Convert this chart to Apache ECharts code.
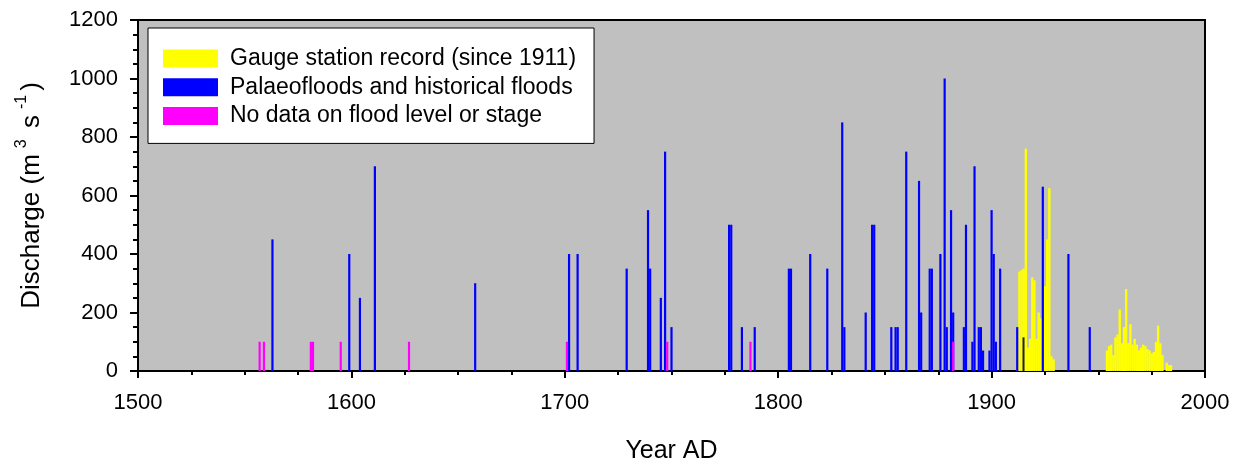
<!DOCTYPE html>
<html>
<head>
<meta charset="utf-8">
<script src="https://cdn.jsdelivr.net/npm/echarts@6/dist/echarts.min.js"></script>
<style>
  html, body { margin: 0; padding: 0; background: #ffffff; }
  #chart { width: 1238px; height: 464px; }
</style>
</head>
<body>
<div id="chart"></div>
<script>
// ---- Data ----
const gaugeYears = [1912,1913,1914,1915,1916,1917,1918,1919,1920,1921,1922,1923,1924,1925,1926,1927,1928,1929,
  1954,1955,1956,1957,1958,1959,1960,1961,1962,1963,1964,1965,1966,1967,1968,1969,1970,1971,1972,1973,1974,1975,1976,1977,1978,1979,1980,1982,1983,1984];
const gaugeValues = [70,340,345,350,760,80,110,320,310,110,200,180,100,290,450,625,50,40,
  70,85,90,55,115,125,210,95,150,280,95,160,90,110,90,70,80,90,85,75,70,60,65,100,155,95,55,28,20,20];

const floodYears = [1563,1599,1604,1611,1658,1702,1706,1729,1739,1740,1745,1747,1750,1777,1778,1783,1789,
  1805,1806,1815,1823,1830,1831,1841,1844,1845,1853,1855,1856,1860,1866,1867,1871,1872,1876,1878,1879,
  1881,1882,1887,1888,1891,1892,1894,1895,1896,1899,1900,1901,1902,1904,1912,1924,1936,1946];
const floodValues = [450,400,250,700,300,400,400,350,550,350,250,750,150,500,500,150,150,
  350,350,400,350,850,150,200,500,500,150,150,150,750,650,200,350,350,400,1000,150,
  550,200,150,500,100,700,150,150,70,70,550,400,100,350,150,630,400,150];

const otherYears = [1915];
const otherValues = [115];

const noDataYears = [1557,1559,1581,1582,1595,1627,1701,1748,1787,1882];
const noDataValues = [100,100,100,100,100,100,100,100,100,100];

const xTicks = { min: 1500, max: 2000, interval: 100 };
const yTicks = { min: 0, max: 1200, interval: 200 };

const seriesNames = ['Gauge station record (since 1911)', 'Palaeofloods and historical floods', 'No data on flood level or stage'];

function pairs(xs, ys) { return xs.map((x, i) => [x, ys[i]]); }

const FONT = '"Liberation Sans", Arial, sans-serif';

const chart = echarts.init(document.getElementById('chart'), null, { renderer: 'canvas' });
chart.setOption({
  animation: false,
  grid: {
    left: 138, right: 33, top: 20, bottom: 93,
    outerBoundsMode: 'none', containLabel: false,
    show: true, backgroundColor: '#c0c0c0', borderColor: '#000000', borderWidth: 2
  },
  legend: {
    data: seriesNames,
    orient: 'vertical',
    left: 148, top: 28,
    icon: 'rect',
    itemWidth: 55, itemHeight: 18, itemGap: 5.7,
    padding: [19, 18, 16, 15],
    backgroundColor: '#ffffff',
    borderColor: '#000000', borderWidth: 1,
    selectedMode: false,
    textStyle: { fontFamily: FONT, fontSize: 23, color: '#000000', padding: [0, 0, 0, 7] }
  },
  xAxis: {
    type: 'value',
    min: xTicks.min, max: xTicks.max, interval: xTicks.interval,
    name: 'Year AD', nameLocation: 'middle', nameGap: 68,
    nameTextStyle: { fontFamily: FONT, fontSize: 25, color: '#000000' },
    axisLine: { show: true, onZero: false, lineStyle: { color: '#000000', width: 2 } },
    axisTick: { show: true, inside: false, length: 7, lineStyle: { color: '#000000', width: 2 } },
    minorTick: { show: true, splitNumber: 4, length: 4, lineStyle: { color: '#000000', width: 2 } },
    splitLine: { show: false },
    axisLabel: { fontFamily: FONT, fontSize: 22, color: '#000000', margin: 21,
      formatter: v => String(v) }
  },
  yAxis: {
    type: 'value',
    min: yTicks.min, max: yTicks.max, interval: yTicks.interval,
    name: 'Discharge (m{sup|3} s{sup|-1})', nameLocation: 'middle', nameGap: 88,
    nameTextStyle: { fontFamily: FONT, fontSize: 26, color: '#000000', lineHeight: 36,
      rich: { sup: { fontFamily: FONT, fontSize: 16, color: '#000000', lineHeight: 16, verticalAlign: 'top', padding: [0, 4, 0, 6] } } },
    axisLine: { show: true, lineStyle: { color: '#000000', width: 2 } },
    axisTick: { show: true, inside: false, length: 8, lineStyle: { color: '#000000', width: 2 } },
    minorTick: { show: true, splitNumber: 4, length: 5, lineStyle: { color: '#000000', width: 2 } },
    splitLine: { show: false },
    axisLabel: { fontFamily: FONT, fontSize: 22, color: '#000000', margin: 20,
      formatter: v => String(v) }
  },
  series: [
    { name: seriesNames[0], type: 'bar', barWidth: 2.4, barGap: '-100%',
      itemStyle: { color: '#ffff00' }, data: pairs(gaugeYears, gaugeValues) },
    { name: seriesNames[1], type: 'bar', barWidth: 2.2, barGap: '-100%',
      itemStyle: { color: '#0000ff' }, data: pairs(floodYears, floodValues) },
    { name: 'Other', type: 'bar', barWidth: 2, barGap: '-100%',
      itemStyle: { color: '#202030' }, data: pairs(otherYears, otherValues) },
    { name: seriesNames[2], type: 'bar', barWidth: 2.2, barGap: '-100%',
      itemStyle: { color: '#ff00ff' }, data: pairs(noDataYears, noDataValues) }
  ]
});
</script>
</body>
</html>
